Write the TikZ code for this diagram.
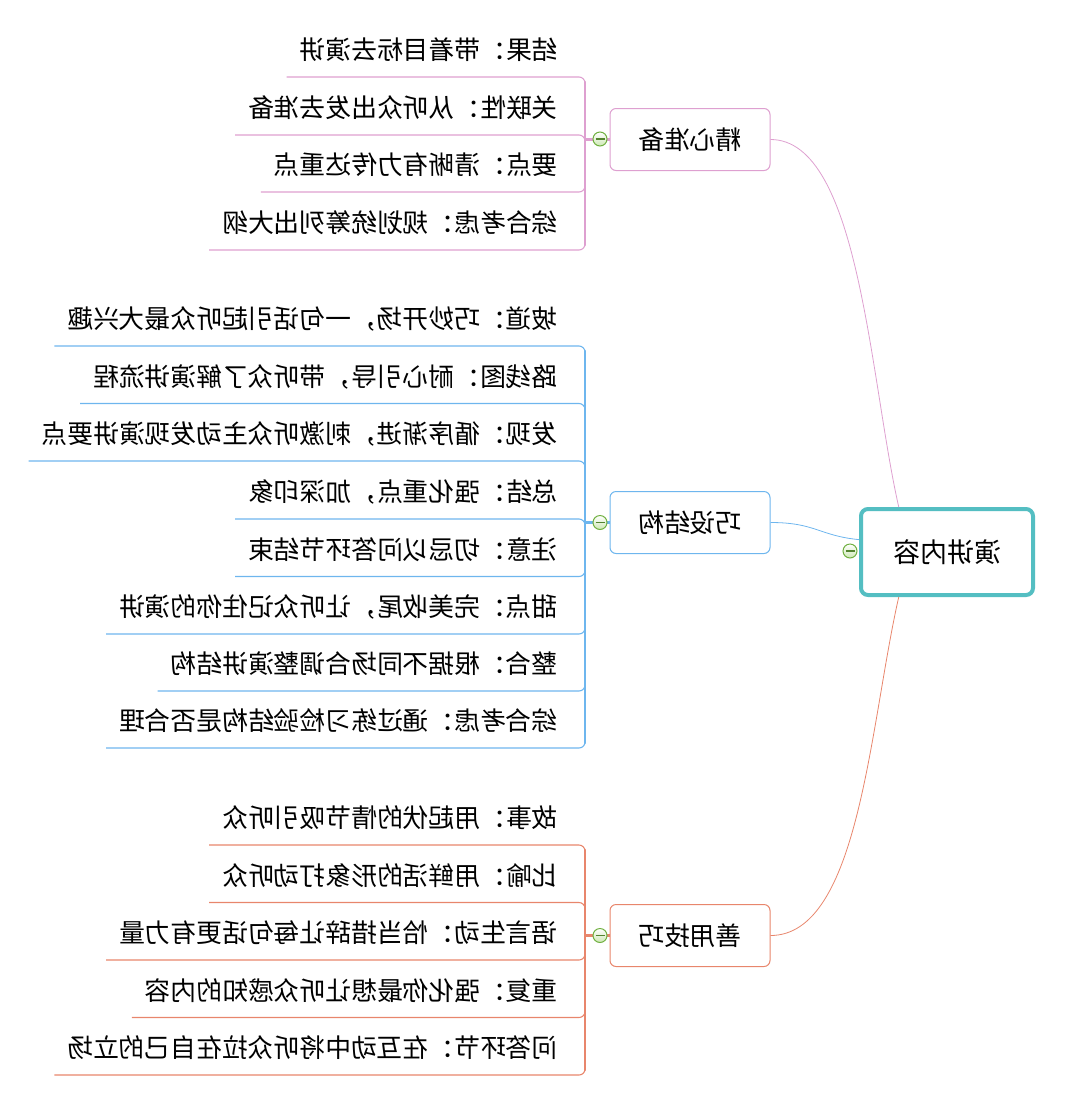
\documentclass[tikz,border=0pt]{standalone}
\usepackage{fontspec}
\usepackage{graphicx}
\newfontfamily\cjk{Noto Sans CJK SC}
\definecolor{pinkc}{RGB}{222,160,208}
\definecolor{bluec}{RGB}{110,182,238}
\definecolor{orangec}{RGB}{232,134,108}
\definecolor{tealc}{RGB}{84,190,194}
\definecolor{iconc}{RGB}{112,176,64}
\definecolor{iconf}{RGB}{205,232,180}
\newcommand\mir[1]{\reflectbox{#1}}
\newcommand\lf[1]{\reflectbox{#1}\kern14pt\relax}
\tikzset{
  leaf/.style={anchor=south east, inner xsep=13pt, inner ysep=13pt,
    text height=22pt, text depth=4pt, font=\cjk\fontsize{25.8}{30}\selectfont},
  topic/.style={draw=#1, fill=white, rectangle, rounded corners=6pt, line width=1pt,
    minimum width=160pt, minimum height=62pt, inner sep=0pt,
    text height=19.6pt, text depth=0pt, font=\cjk\fontsize{25.8}{30}\selectfont},
  centre/.style={draw=tealc, fill=white, rectangle, rounded corners=7pt, line width=4pt,
    minimum width=172pt, minimum height=86pt, inner sep=0pt,
    text height=20.6pt, text depth=0pt, font=\cjk\fontsize{27}{32}\selectfont},
  uline/.style={draw=#1, line width=1.1pt, rounded corners=6pt},
  spine/.style={draw=#1, line width=2.3pt, line cap=round},
  stem/.style={draw=#1, line width=3pt},
  link/.style={draw=#1, line width=0.8pt},
  icon/.style={circle, draw=iconc, line width=1pt, inner sep=0pt, minimum size=14pt,
    top color=white, bottom color=iconf},
  minus/.style={draw=iconc!75!black, line width=1.1pt}
}
\begin{document}
\begin{tikzpicture}[x=1pt,y=-1pt]
\useasboundingbox (0,0) rectangle (1066,1104);

% central and main topics
\node[centre] (c) at (947,552) {\mir{演讲内容}};
\node[topic=pinkc] (t1) at (690,139.5) {\mir{精心准备}};
\node[topic=bluec] (t2) at (690,522.5) {\mir{巧设结构}};
\node[topic=orangec] (t3) at (690,935.5) {\mir{善用技巧}};

\coordinate (j1) at (585,139.5);
\coordinate (j2) at (585,522.5);
\coordinate (j3) at (585,935.5);

% curves from centre
\draw[link=pinkc] (t1.east) .. controls +(89,0) and +(-29,-127) .. (c.137);
\draw[link=bluec] (t2.east) .. controls +(45,0) and +(-40,-4) .. (c.172);
\draw[link=orangec] (t3.east) .. controls +(89,0) and +(-29,127) .. (c.223);

% pink leaves
\node[leaf] (p1) at (585,77) {\lf{结果：带着目标去演讲}};
\node[leaf] (p2) at (585,135) {\lf{关联性：从听众出发去准备}};
\node[leaf] (p3) at (585,192) {\lf{要点：清晰有力传达重点}};
\node[leaf] (p4) at (585,250) {\lf{综合考虑：规划统筹列出大纲}};
\foreach \l in {p1,p2,p3,p4} \draw[uline=pinkc] (j1) |- (\l.south west);
\draw[spine=pinkc, shorten >=5pt] (j1) -- (p1.south east);
\draw[spine=pinkc, shorten >=5pt] (j1) -- (p4.south east);
\draw[stem=pinkc] (t1.west) -- (j1);

% blue leaves
\node[leaf] (b1) at (585,346) {\lf{坡道：巧妙开场，一句话引起听众最大兴趣}};
\node[leaf] (b2) at (585,403.5) {\lf{路线图：耐心引导，带听众了解演讲流程}};
\node[leaf] (b3) at (585,461) {\lf{发现：循序渐进，刺激听众主动发现演讲要点}};
\node[leaf] (b4) at (585,519) {\lf{总结：强化重点，加深印象}};
\node[leaf] (b5) at (585,576.5) {\lf{注意：切忌以问答环节结束}};
\node[leaf] (b6) at (585,634) {\lf{甜点：完美收尾，让听众记住你的演讲}};
\node[leaf] (b7) at (585,691) {\lf{整合：根据不同场合调整演讲结构}};
\node[leaf] (b8) at (585,748) {\lf{综合考虑：通过练习检验结构是否合理}};
\foreach \l in {b1,b2,b3,b4,b5,b6,b7,b8} \draw[uline=bluec] (j2) |- (\l.south west);
\draw[spine=bluec, shorten >=5pt] (j2) -- (b1.south east);
\draw[spine=bluec, shorten >=5pt] (j2) -- (b8.south east);
\draw[stem=bluec] (t2.west) -- (j2);

% orange leaves
\node[leaf] (o1) at (585,845) {\lf{故事：用起伏的情节吸引听众}};
\node[leaf] (o2) at (585,902.5) {\lf{比喻：用鲜活的形象打动听众}};
\node[leaf] (o3) at (585,960) {\lf{语言生动：恰当措辞让每句话更有力量}};
\node[leaf] (o4) at (585,1017.5) {\lf{重复：强化你最想让听众感知的内容}};
\node[leaf] (o5) at (585,1075) {\lf{问答环节：在互动中将听众拉在自己的立场}};
\foreach \l in {o1,o2,o3,o4,o5} \draw[uline=orangec] (j3) |- (\l.south west);
\draw[spine=orangec, shorten >=5pt] (j3) -- (o1.south east);
\draw[spine=orangec, shorten >=5pt] (j3) -- (o5.south east);
\draw[stem=orangec] (t3.west) -- (j3);

% collapse icons
\node[icon] (i1) at (600,139) {};
\node[icon] (i2) at (600,522.5) {};
\node[icon] (i3) at (600,935.5) {};
\node[icon] (i0) at (850,551) {};
\foreach \i in {i0,i1,i2,i3} \draw[minus] ([xshift=3pt]\i.west) -- ([xshift=-3pt]\i.east);
\end{tikzpicture}
\end{document}
